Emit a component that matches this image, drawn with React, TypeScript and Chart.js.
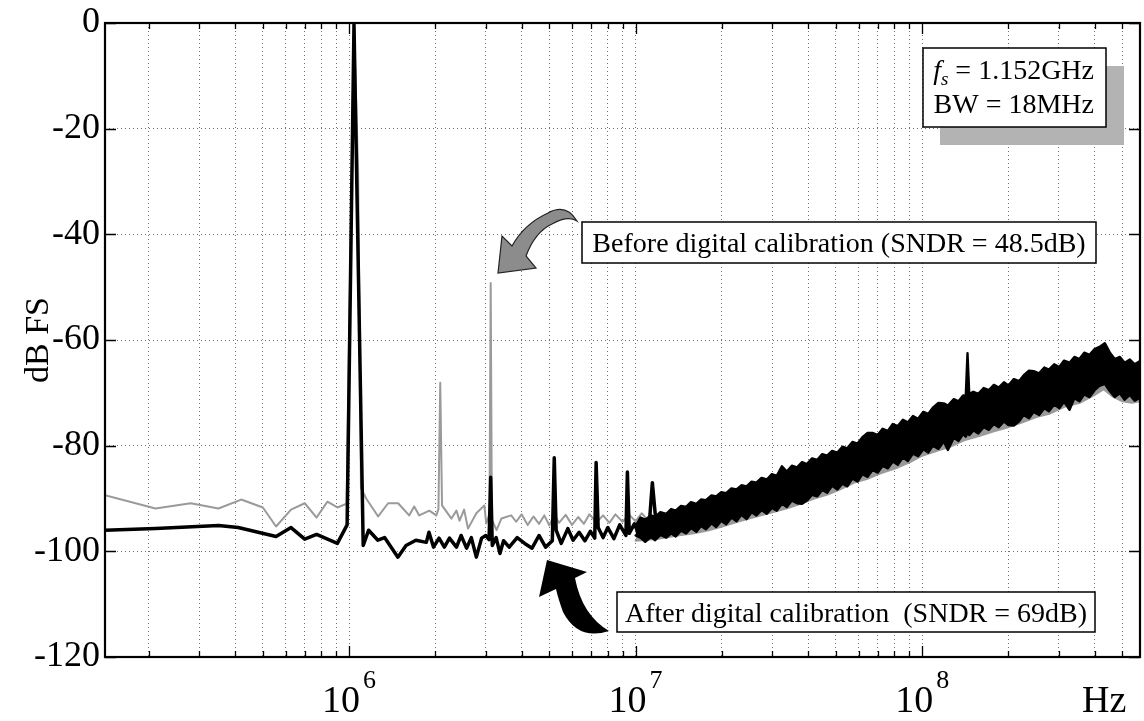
import { useEffect, useRef } from 'react';
import { Chart, registerables } from 'chart.js';

Chart.register(...registerables);

const W = 1144;
const H = 721;
const SERIF = '"Liberation Serif", "Times New Roman", serif';

// Frequency axis: first FFT bin up to fs/2 (fs = 1.152 GHz)
const FREQ_MIN = 1.406e5;
const FREQ_MAX = 5.76e8;

// Amplitude axis (dB FS)
const DB_MIN = -120;
const DB_MAX = 0;
const DB_STEP = 20;

// Decade labels on the frequency axis
const decadeValues = [1e6, 1e7, 1e8];
const decadeExponents = ['6', '7', '8'];
const axisUnit = 'Hz';

// Log grid: 1..9 per decade
const gridDecades = [1e5, 1e6, 1e7, 1e8];
const gridMantissas = [1, 2, 3, 4, 5, 6, 7, 8, 9];

// After digital calibration: low-frequency trace (tone + odd harmonics)
const afterFreq = [
  1.406e5, 2.11e5, 3.5e5, 4.1e5, 5.56e5, 6.27e5, 7.0e5, 7.7e5, 9.1e5, 9.84e5,
  1.04e6, 1.12e6, 1.17e6, 1.26e6, 1.33e6, 1.48e6, 1.58e6, 1.71e6, 1.86e6, 1.9e6,
  1.97e6, 2.06e6, 2.15e6, 2.24e6, 2.37e6, 2.46e6, 2.57e6, 2.67e6, 2.78e6, 2.9e6,
  3.0e6, 3.08e6, 3.12e6, 3.16e6, 3.26e6, 3.36e6, 3.46e6, 3.62e6, 3.86e6, 4.1e6,
  4.35e6, 4.6e6, 4.85e6, 5.12e6, 5.2e6, 5.28e6, 5.5e6, 5.8e6, 6.05e6, 6.35e6,
  6.65e6, 6.95e6, 7.2e6, 7.28e6, 7.4e6, 7.7e6, 8.0e6, 8.4e6, 8.8e6, 9.25e6,
  9.36e6, 9.5e6, 9.9e6, 1.03e7, 1.07e7, 1.11e7, 1.144e7, 1.18e7, 1.22e7, 1.26e7,
];
const afterDb = [
  -96.0, -95.7, -95.1, -95.5, -97.2, -95.5, -97.7, -96.8, -98.5, -95.0,
  -0.3, -98.9, -96.0, -97.9, -97.4, -101.1, -98.9, -97.9, -98.3, -96.4,
  -99.2, -97.5, -99.2, -97.5, -99.2, -97.0, -99.4, -97.4, -101.1, -97.5,
  -97.0, -97.8, -86.0, -98.9, -97.4, -100.4, -98.0, -99.2, -97.4, -98.5,
  -99.4, -97.0, -99.2, -98.0, -82.3, -96.0, -98.5, -95.7, -97.9, -96.4,
  -98.0, -96.2, -97.5, -83.2, -95.5, -97.4, -95.5, -97.6, -95.0, -97.0,
  -85.0, -96.6, -94.8, -97.0, -94.6, -96.5, -87.0, -95.0, -96.4, -94.2,
];

// After digital calibration: shaped noise band, upper and lower edges
const afterBandFreq = [
  1.0e7, 1.04e7, 1.08e7, 1.13e7, 1.17e7, 1.22e7, 1.28e7, 1.33e7, 1.38e7, 1.44e7,
  1.5e7, 1.56e7, 1.63e7, 1.69e7, 1.76e7, 1.84e7, 1.91e7, 1.99e7, 2.07e7, 2.16e7,
  2.25e7, 2.34e7, 2.44e7, 2.54e7, 2.64e7, 2.75e7, 2.87e7, 2.99e7, 3.11e7, 3.24e7,
  3.37e7, 3.51e7, 3.66e7, 3.81e7, 3.96e7, 4.13e7, 4.3e7, 4.48e7, 4.66e7, 4.85e7,
  5.06e7, 5.27e7, 5.48e7, 5.71e7, 5.95e7, 6.19e7, 6.45e7, 6.71e7, 7.0e7, 7.28e7,
  7.59e7, 7.9e7, 8.22e7, 8.57e7, 8.91e7, 9.29e7, 9.68e7, 1.01e8, 1.05e8, 1.09e8,
  1.14e8, 1.19e8, 1.23e8, 1.29e8, 1.34e8, 1.39e8, 1.42e8, 1.44e8, 1.46e8, 1.51e8,
  1.57e8, 1.64e8, 1.71e8, 1.78e8, 1.85e8, 1.93e8, 2.0e8, 2.09e8, 2.18e8, 2.26e8,
  2.36e8, 2.45e8, 2.56e8, 2.67e8, 2.77e8, 2.89e8, 3.01e8, 3.13e8, 3.27e8, 3.4e8,
  3.54e8, 3.68e8, 3.84e8, 4.0e8, 4.16e8, 4.34e8, 4.51e8, 4.7e8, 4.9e8, 5.09e8,
  5.31e8, 5.52e8, 5.76e8,
];
const afterBandTop = [
  -95.2, -93.6, -94.0, -93.2, -93.5, -92.6, -92.9, -92.0, -92.3, -91.4,
  -91.6, -90.7, -91.0, -90.2, -90.3, -89.4, -89.6, -88.8, -89.0, -88.1,
  -88.3, -87.5, -87.7, -86.8, -87.0, -86.1, -86.4, -85.4, -85.7, -83.9,
  -84.9, -83.8, -84.1, -83.1, -83.5, -82.4, -82.7, -81.6, -81.9, -81.0,
  -81.3, -80.2, -80.5, -79.3, -79.6, -78.4, -77.6, -77.6, -78.0, -76.8,
  -77.2, -75.9, -76.3, -75.1, -75.6, -74.4, -74.9, -73.6, -74.0, -72.8,
  -71.9, -72.0, -72.4, -71.2, -71.6, -70.5, -70.6, -62.5, -70.2, -69.8,
  -70.2, -69.1, -69.5, -68.5, -69.0, -68.0, -68.6, -67.4, -67.8, -66.7,
  -65.8, -65.9, -66.3, -65.2, -65.6, -64.6, -65.1, -63.9, -64.3, -63.2,
  -63.6, -62.4, -62.8, -61.7, -61.3, -60.6, -62.3, -63.6, -63.2, -64.3,
  -63.7, -64.6, -64.0,
];
const afterBandBottom = [
  -97.0, -97.4, -98.2, -97.3, -97.9, -96.9, -97.4, -96.6, -97.2, -96.1,
  -96.6, -95.6, -96.3, -95.2, -95.8, -94.7, -95.4, -94.2, -94.9, -93.6,
  -94.3, -93.1, -93.9, -92.6, -93.2, -92.2, -92.9, -91.8, -92.3, -91.0,
  -91.6, -90.4, -90.9, -91.0, -90.4, -89.3, -89.6, -88.4, -88.9, -87.6,
  -88.3, -87.2, -87.7, -86.2, -86.8, -85.4, -85.9, -84.6, -85.1, -83.8,
  -84.3, -83.0, -83.6, -82.2, -82.9, -81.5, -82.0, -80.7, -81.3, -80.0,
  -80.6, -79.2, -80.8, -78.5, -79.1, -77.8, -78.3, -77.6, -78.0, -77.1,
  -77.7, -76.5, -77.0, -75.9, -76.5, -75.4, -76.1, -76.2, -75.4, -74.2,
  -74.8, -73.6, -74.2, -72.9, -73.5, -72.2, -72.9, -71.7, -73.2, -71.0,
  -71.6, -70.3, -70.8, -69.5, -68.7, -68.3, -69.6, -70.8, -70.1, -71.3,
  -70.4, -71.5, -70.9,
];

// Before digital calibration: low-frequency trace (tone + 2nd/3rd harmonics)
const beforeFreq = [
  1.406e5, 2.11e5, 2.8e5, 3.5e5, 4.2e5, 5.0e5, 5.56e5, 6.27e5, 7.0e5, 7.7e5,
  8.4e5, 9.1e5, 9.8e5, 1.04e6, 1.075e6, 1.1e6, 1.147e6, 1.263e6, 1.368e6, 1.483e6,
  1.62e6, 1.687e6, 1.757e6, 1.905e6, 2.015e6, 2.05e6, 2.08e6, 2.11e6, 2.276e6, 2.37e6,
  2.43e6, 2.52e6, 2.6e6, 2.78e6, 2.965e6, 3.01e6, 3.09e6, 3.12e6, 3.15e6, 3.27e6,
  3.4e6, 3.68e6, 3.83e6, 4.0e6, 4.2e6, 4.4e6, 4.6e6, 4.8e6, 5.0e6, 5.2e6,
  5.4e6, 5.7e6, 6.0e6, 6.3e6, 6.6e6, 6.9e6, 7.3e6, 7.7e6, 8.1e6, 8.5e6,
  9.0e6, 9.5e6, 1.0e7, 1.05e7, 1.1e7,
];
const beforeDb = [
  -89.4, -91.9, -90.9, -91.9, -90.2, -91.7, -95.3, -92.1, -90.9, -93.6,
  -90.6, -91.7, -91.0, -0.3, -28.0, -88.0, -90.0, -93.4, -90.9, -90.9,
  -93.2, -91.5, -93.2, -92.3, -93.2, -92.0, -68.1, -91.3, -93.8, -92.3,
  -94.2, -92.1, -95.7, -92.8, -91.3, -94.7, -93.0, -49.2, -94.0, -96.0,
  -93.8, -93.2, -94.4, -93.0, -95.0, -93.4, -94.8, -93.2, -95.1, -93.0,
  -94.6, -93.1, -95.0, -93.5, -94.8, -93.0, -94.5, -93.2, -94.6, -93.0,
  -94.4, -93.1, -94.3, -92.8, -94.0,
];

// Before digital calibration: lower edge of the shaped noise band
const beforeBandFreq = [
  1.0e7, 1.2e7, 1.4e7, 1.6e7, 1.8e7, 2.0e7, 2.3e7, 2.6e7, 3.0e7, 3.4e7,
  3.8e7, 4.2e7, 4.7e7, 5.2e7, 5.8e7, 6.5e7, 7.2e7, 8.0e7, 9.0e7, 1.0e8,
  1.12e8, 1.25e8, 1.4e8, 1.58e8, 1.78e8, 2.0e8, 2.24e8, 2.5e8, 2.8e8, 3.15e8,
  3.55e8, 4.0e8, 4.3e8, 4.6e8, 5.0e8, 5.4e8, 5.76e8,
];
const beforeBandBottom = [
  -98.0, -97.6, -97.0, -96.6, -96.0, -95.3, -94.3, -93.5, -92.6, -91.8,
  -90.9, -90.0, -89.2, -88.2, -87.0, -86.2, -85.2, -84.4, -83.2, -81.9,
  -81.0, -80.2, -79.0, -78.2, -77.3, -76.5, -75.6, -74.6, -73.9, -72.6,
  -71.9, -70.4, -69.3, -70.6, -71.6, -71.9, -71.6,
];

const gridFreqs = gridDecades
  .flatMap((d) => gridMantissas.map((m) => m * d))
  .filter((v) => v > FREQ_MIN && v < FREQ_MAX);

const toPoints = (xs: number[], ys: number[]) => xs.map((x, i) => ({ x, y: ys[i] }));

const BLACK = '#000000';
const GREY = '#9a9a9a';

function drawGreyArrow(ctx: CanvasRenderingContext2D) {
  ctx.beginPath();
  ctx.moveTo(577, 221);
  ctx.quadraticCurveTo(566, 203, 548, 213);
  ctx.quadraticCurveTo(524, 224, 512, 246);
  ctx.lineTo(502, 236);
  ctx.lineTo(498, 273);
  ctx.lineTo(536, 268);
  ctx.lineTo(526, 256);
  ctx.quadraticCurveTo(535, 232, 552, 224);
  ctx.quadraticCurveTo(568, 215, 577, 221);
  ctx.closePath();
  ctx.fillStyle = '#8c8c8c';
  ctx.fill();
  ctx.lineWidth = 1.2;
  ctx.strokeStyle = '#222';
  ctx.stroke();
}

function drawBlackArrow(ctx: CanvasRenderingContext2D) {
  ctx.beginPath();
  ctx.moveTo(547, 560);
  ctx.lineTo(587, 572);
  ctx.lineTo(575, 578);
  ctx.quadraticCurveTo(582, 615, 609, 631);
  ctx.quadraticCurveTo(578, 641, 563, 612);
  ctx.quadraticCurveTo(558, 598, 556, 589);
  ctx.lineTo(539, 597);
  ctx.closePath();
  ctx.fillStyle = BLACK;
  ctx.fill();
}

function drawBox(ctx: CanvasRenderingContext2D, x: number, y: number, w: number, h: number) {
  ctx.fillStyle = '#ffffff';
  ctx.fillRect(x, y, w, h);
  ctx.lineWidth = 1.5;
  ctx.strokeStyle = BLACK;
  ctx.strokeRect(x, y, w, h);
}

const decorations = {
  id: 'decorations',
  afterDatasetsDraw(chart: any) {
    const { ctx, chartArea: a, scales } = chart;
    const xs = scales.x;
    const ys = scales.y;
    ctx.save();

    // inward tick marks on all four sides
    ctx.strokeStyle = BLACK;
    ctx.lineWidth = 1.3;
    ctx.beginPath();
    for (const v of gridFreqs) {
      const px = Math.round(xs.getPixelForValue(v)) + 0.5;
      const len = decadeValues.includes(v) ? 11 : 6;
      ctx.moveTo(px, a.bottom);
      ctx.lineTo(px, a.bottom - len);
      ctx.moveTo(px, a.top);
      ctx.lineTo(px, a.top + len);
    }
    for (let v = DB_MIN; v <= DB_MAX; v += DB_STEP) {
      const py = Math.round(ys.getPixelForValue(v)) + 0.5;
      ctx.moveTo(a.left, py);
      ctx.lineTo(a.left + 11, py);
      ctx.moveTo(a.right, py);
      ctx.lineTo(a.right - 11, py);
    }
    ctx.stroke();

    // plot frame
    ctx.lineWidth = 2.2;
    ctx.strokeRect(a.left, a.top, a.right - a.left, a.bottom - a.top);

    // sampling info box with drop shadow
    ctx.fillStyle = '#b3b3b3';
    ctx.fillRect(940, 66, 184, 79);
    drawBox(ctx, 923, 48, 183, 79);
    ctx.fillStyle = BLACK;
    ctx.textBaseline = 'alphabetic';
    ctx.textAlign = 'left';
    const rest = ' = 1.152GHz';
    ctx.font = `italic 28px ${SERIF}`;
    const wf = ctx.measureText('f').width;
    ctx.font = `italic 19px ${SERIF}`;
    const ws = ctx.measureText('s').width;
    ctx.font = `28px ${SERIF}`;
    const wr = ctx.measureText(rest).width;
    const tx = 1094 - (wf + ws + wr);
    ctx.font = `italic 28px ${SERIF}`;
    ctx.fillText('f', tx, 79);
    ctx.font = `italic 19px ${SERIF}`;
    ctx.fillText('s', tx + wf, 85);
    ctx.font = `28px ${SERIF}`;
    ctx.fillText(rest, tx + wf + ws, 79);
    ctx.textAlign = 'right';
    ctx.fillText('BW = 18MHz', 1094, 113);

    // series call-outs
    drawGreyArrow(ctx);
    drawBox(ctx, 582, 222, 514, 41);
    ctx.fillStyle = BLACK;
    ctx.textAlign = 'center';
    ctx.font = `28px ${SERIF}`;
    ctx.fillText('Before digital calibration (SNDR = 48.5dB)', 839, 252);

    drawBlackArrow(ctx);
    drawBox(ctx, 617, 592, 478, 40);
    ctx.fillStyle = BLACK;
    ctx.fillText('After digital calibration  (SNDR = 69dB)', 856, 622);

    ctx.restore();
  },
  afterDraw(chart: any) {
    const { ctx, scales } = chart;
    const xs = scales.x;
    ctx.save();
    ctx.fillStyle = BLACK;
    ctx.textBaseline = 'alphabetic';
    decadeValues.forEach((v, i) => {
      const px = xs.getPixelForValue(v);
      ctx.font = `38px ${SERIF}`;
      ctx.textAlign = 'right';
      ctx.fillText('10', px + 11, 712);
      ctx.font = `26px ${SERIF}`;
      ctx.textAlign = 'left';
      ctx.fillText(decadeExponents[i], px + 14, 688);
    });
    ctx.font = `38px ${SERIF}`;
    ctx.textAlign = 'left';
    ctx.fillText(axisUnit, 1082, 712);
    ctx.restore();
  },
};

export default function App() {
  const canvasRef = useRef<HTMLCanvasElement>(null);

  useEffect(() => {
    const canvas = canvasRef.current;
    if (!canvas) return;

    const lineBase = {
      pointRadius: 0,
      pointHoverRadius: 0,
      tension: 0,
      borderJoinStyle: 'round' as const,
      borderCapStyle: 'round' as const,
    };

    const chart = new Chart(canvas, {
      type: 'line',
      data: {
        datasets: [
          {
            ...lineBase,
            label: 'After digital calibration',
            data: toPoints(afterFreq, afterDb),
            borderColor: BLACK,
            borderWidth: 3.5,
            fill: false,
          },
          {
            ...lineBase,
            label: 'After (noise band, upper)',
            data: toPoints(afterBandFreq, afterBandTop),
            borderColor: BLACK,
            backgroundColor: BLACK,
            borderWidth: 2.4,
            fill: '+1',
          },
          {
            ...lineBase,
            label: 'After (noise band, lower)',
            data: toPoints(afterBandFreq, afterBandBottom),
            borderColor: BLACK,
            borderWidth: 2.4,
            fill: false,
          },
          {
            ...lineBase,
            label: 'Before digital calibration',
            data: toPoints(beforeFreq, beforeDb),
            borderColor: GREY,
            borderWidth: 2,
            fill: false,
          },
          {
            ...lineBase,
            label: 'Before (noise band, lower)',
            data: toPoints(beforeBandFreq, beforeBandBottom),
            borderColor: GREY,
            backgroundColor: GREY,
            borderWidth: 2,
            fill: 1,
          },
        ],
      },
      options: {
        animation: false,
        responsive: false,
        maintainAspectRatio: false,
        events: [],
        layout: { padding: { top: 21, right: 4, left: 0, bottom: 0 } },
        plugins: {
          legend: { display: false },
          tooltip: { enabled: false },
          title: { display: false },
        },
        scales: {
          x: {
            type: 'logarithmic',
            min: FREQ_MIN,
            max: FREQ_MAX,
            afterBuildTicks: (scale: any) => {
              scale.ticks = gridFreqs.map((value) => ({ value }));
            },
            afterFit: (scale: any) => {
              scale.height = H - 657;
            },
            ticks: { display: false },
            grid: {
              color: 'rgba(0,0,0,0.55)',
              lineWidth: 1,
              drawTicks: false,
            },
            border: { display: false, dash: [1, 3] },
          },
          y: {
            type: 'linear',
            min: DB_MIN,
            max: DB_MAX,
            afterFit: (scale: any) => {
              scale.width = 105;
            },
            ticks: {
              stepSize: DB_STEP,
              color: BLACK,
              padding: 5,
              font: { family: SERIF, size: 36, lineHeight: 1 },
            },
            grid: {
              color: 'rgba(0,0,0,0.55)',
              lineWidth: 1,
              drawTicks: false,
            },
            border: { display: false, dash: [1, 3] },
            title: {
              display: true,
              text: 'dB FS',
              color: BLACK,
              font: { family: SERIF, size: 34, lineHeight: 1.2 },
              padding: { top: 19, bottom: 0 },
            },
          },
        },
      },
      plugins: [decorations],
    });

    return () => chart.destroy();
  }, []);

  return (
    <div style={{ position: 'fixed', left: 0, top: 0, width: W, height: H, background: '#ffffff' }}>
      <canvas ref={canvasRef} width={W} height={H} style={{ display: 'block', width: W, height: H }} />
    </div>
  );
}
